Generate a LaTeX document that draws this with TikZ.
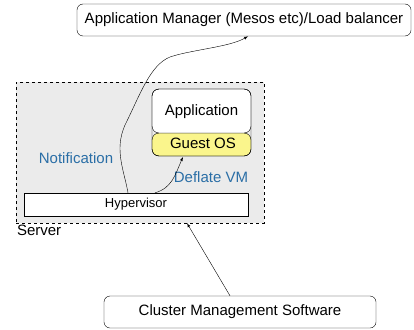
\documentclass[tikz,border=0pt]{standalone}
\usepackage{fontspec}
\setmainfont{Liberation Sans}
\usetikzlibrary{positioning}

\definecolor{notecolor}{HTML}{2A6EA6}
\definecolor{guestcolor}{HTML}{FAF58C}
\definecolor{servercolor}{HTML}{EBEBEB}

\begin{document}
\begin{tikzpicture}[
    x = 1pt, y = -1pt,
    font = \fontsize{15}{17}\selectfont,
    manager/.style = {rectangle,
      draw,
      rounded corners = 6pt,
      minimum height = 32pt},
    layer/.style = {rectangle,
      draw,
      fill = white,
      minimum height = 23pt,
      inner sep = 0pt,
      font = \fontsize{13}{15}\selectfont},
    note/.style = {text = notecolor}
    ]

    \useasboundingbox (0, 0) rectangle (414, 329);

    \node at (244, 20) [manager, minimum width = 334pt, name = AM]
    {Application Manager (Mesos etc)/Load balancer};
    \node at (240, 312) [manager, minimum width = 272pt, name = CM]
    {Cluster Management Software};

    \node at (140, 152.5) [draw, dashed, fill = servercolor,
      minimum width = 248pt, minimum height = 141pt, name = SRV] {};
    \node [below right = 1pt and 0pt of SRV.south west, inner sep = 1pt,
      name = SRVlabel] {Server};

    \node at (136, 204.5) [layer, minimum width = 224pt, name = HV] {Hypervisor};

    \draw [rounded corners = 7pt, fill = guestcolor]
    (152, 133) -- (152, 156) -- (251, 156) -- (251, 133) -- cycle;
    \draw [rounded corners = 7pt, fill = white]
    (152, 133) -- (152, 89) -- (251, 89) -- (251, 133) -- cycle;
    \draw [rounded corners = 7pt] (152, 89) rectangle (251, 156);
    \node at (201.5, 112) [name = APP] {Application};
    \node at (203, 143) [name = GOS] {Guest OS};
    \coordinate (GOSbottom) at (183, 157);

    \node at (76, 158) [note, name = NOTE] {Notification};
    \node at (211, 177) [note, name = DEFL] {Deflate VM};

    \draw [-latex] (HV.north -| 128, 0) .. controls (124, 170) and (114, 150)
    .. (125, 125) .. controls (140, 95) and (150, 65) .. (170, 57)
    .. controls (190, 50) and (230, 47) .. (AM.south -| 248, 0);
    \draw [-latex] (HV.north -| 155, 0) .. controls (172, 188) and (175, 175)
    .. (GOSbottom);
    \draw [-latex] (CM.north -| 230, 0) to (SRV.south -| 187, 0);
  \end{tikzpicture}
\end{document}
